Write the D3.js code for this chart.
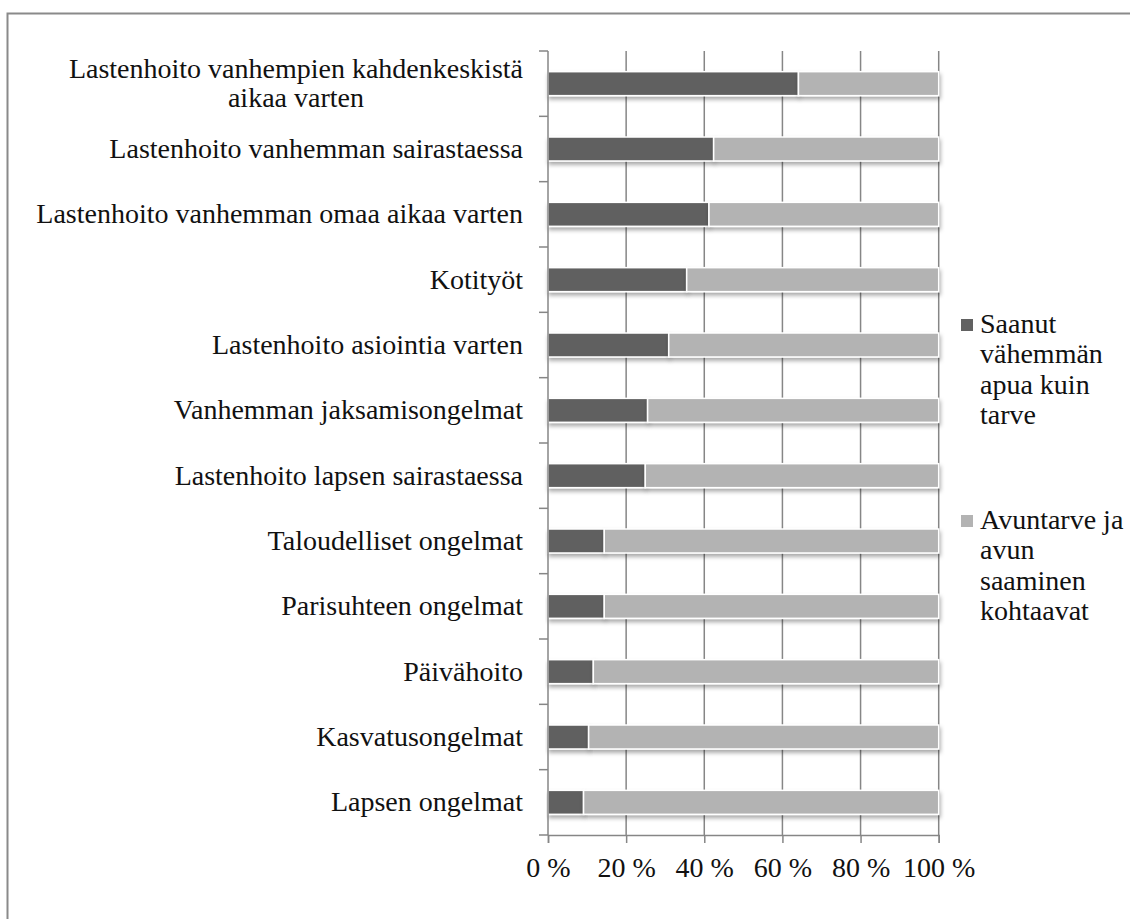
<!DOCTYPE html>
<html>
<head>
<meta charset="utf-8">
<script src="https://cdn.jsdelivr.net/npm/d3@7"></script>
<style>
  html, body { margin: 0; padding: 0; background: #fff; }
  svg { display: block; }
  text { font-family: "Liberation Serif", "Times New Roman", serif; fill: #111; }
</style>
</head>
<body>
<svg id="chart" width="1130" height="919"></svg>
<script>
const categories = [
  "Lastenhoito vanhempien kahdenkeskistä|aikaa varten",
  "Lastenhoito vanhemman sairastaessa",
  "Lastenhoito vanhemman omaa aikaa varten",
  "Kotityöt",
  "Lastenhoito asiointia varten",
  "Vanhemman jaksamisongelmat",
  "Lastenhoito lapsen sairastaessa",
  "Taloudelliset ongelmat",
  "Parisuhteen ongelmat",
  "Päivähoito",
  "Kasvatusongelmat",
  "Lapsen ongelmat"
];
const seriesNames = [
  "Saanut|vähemmän|apua kuin|tarve",
  "Avuntarve ja|avun|saaminen|kohtaavat"
];
const lessHelp = [64.1, 42.4, 41.2, 35.5, 30.9, 25.5, 24.9, 14.4, 14.4, 11.6, 10.4, 9.1];
const matched = lessHelp.map(v => +(100 - v).toFixed(1));
const tickValues = [0, 20, 40, 60, 80, 100];
const tickLabels = ["0 %", "20 %", "40 %", "60 %", "80 %", "100 %"];
const colors = ["#616161", "#b3b3b3"];

const svg = d3.select("#chart");

// outer frame (left + top)
svg.append("path")
  .attr("d", "M7.5,919 V13.5 H1130")
  .attr("fill", "none").attr("stroke", "#8a8a8a").attr("stroke-width", 2);

const x = d3.scaleLinear().domain([0, 100]).range([548, 938.7]);
const y = d3.scaleBand().domain(categories).range([51, 835])
  .paddingInner(0.633).paddingOuter(0.3165);

const defs = svg.append("defs");
const f = defs.append("filter").attr("id", "shadow")
  .attr("x", "-5%").attr("y", "-30%").attr("width", "115%").attr("height", "190%");
f.append("feDropShadow").attr("dx", 1).attr("dy", 3).attr("stdDeviation", 2)
  .attr("flood-color", "#000").attr("flood-opacity", 0.35);

// gridlines
svg.append("g").selectAll("line").data(tickValues.slice(1)).join("line")
  .attr("x1", d => x(d)).attr("x2", d => x(d))
  .attr("y1", 51).attr("y2", 835)
  .attr("stroke", "#868686").attr("stroke-width", 1.5);

// bars
const stacked = categories.map((c, i) => ({ c, parts: [[0, lessHelp[i]], [lessHelp[i], lessHelp[i] + matched[i]]] }));
const barG = svg.append("g");
stacked.forEach(d => {
  d.parts.forEach((p, k) => {
    barG.append("rect")
      .attr("x", x(p[0])).attr("width", x(p[1]) - x(p[0]))
      .attr("y", y(d.c)).attr("height", y.bandwidth())
      .attr("fill", colors[k])
      .attr("stroke", "#fff").attr("stroke-width", 1.5)
      .attr("filter", "url(#shadow)");
  });
});

// y axis line + ticks at band boundaries
const axisG = svg.append("g");
axisG.append("line").attr("x1", 548).attr("x2", 548).attr("y1", 51).attr("y2", 835)
  .attr("stroke", "#868686").attr("stroke-width", 1.5);
const boundaries = d3.range(categories.length + 1).map(i => 51 + i * y.step());
axisG.selectAll(".yt").data(boundaries).join("line")
  .attr("x1", 539).attr("x2", 548)
  .attr("y1", d => d).attr("y2", d => d)
  .attr("stroke", "#868686").attr("stroke-width", 1.5);

// x axis
const xAxis = d3.axisBottom(x).tickValues(tickValues)
  .tickFormat((d, i) => tickLabels[i]).tickSize(8).tickPadding(14);
const xg = svg.append("g").attr("transform", "translate(0,835)").call(xAxis);
xg.select(".domain").attr("stroke", "#868686").attr("stroke-width", 1.5);
xg.selectAll(".tick line").attr("stroke", "#868686").attr("stroke-width", 1.5);
xg.selectAll(".tick text")
  .attr("font-family", "Liberation Serif, serif").attr("font-size", 28)
  .attr("fill", "#111").attr("dy", null).attr("y", 42);

// category labels
const lg = svg.append("g");
categories.forEach(c => {
  const lines = c.split("|");
  const cy = y(c) + y.bandwidth() / 2 + 9;
  const t = lg.append("text").attr("text-anchor", "middle").attr("font-size", 28);
  // measure width of longest line to right align as block (centered lines)
  lines.forEach((ln, j) => {
    t.append("tspan").text(ln)
      .attr("y", cy + (j - (lines.length - 1) / 2) * 29);
  });
  // position: block right edge at 523, lines centred within block
  const widths = [];
  t.selectAll("tspan").each(function() { widths.push(this.getComputedTextLength()); });
  const maxW = d3.max(widths);
  const centerX = 523 - maxW / 2;
  t.selectAll("tspan").attr("x", centerX);
});

// legend
const legY = [319, 515];
seriesNames.forEach((s, k) => {
  svg.append("rect").attr("x", 961).attr("y", legY[k]).attr("width", 12).attr("height", 12)
    .attr("fill", colors[k]);
  const t = svg.append("text").attr("font-size", 28);
  s.split("|").forEach((ln, j) => {
    t.append("tspan").attr("x", 980).attr("y", legY[k] + 14 + j * 30.3).text(ln);
  });
});
</script>
</body>
</html>
